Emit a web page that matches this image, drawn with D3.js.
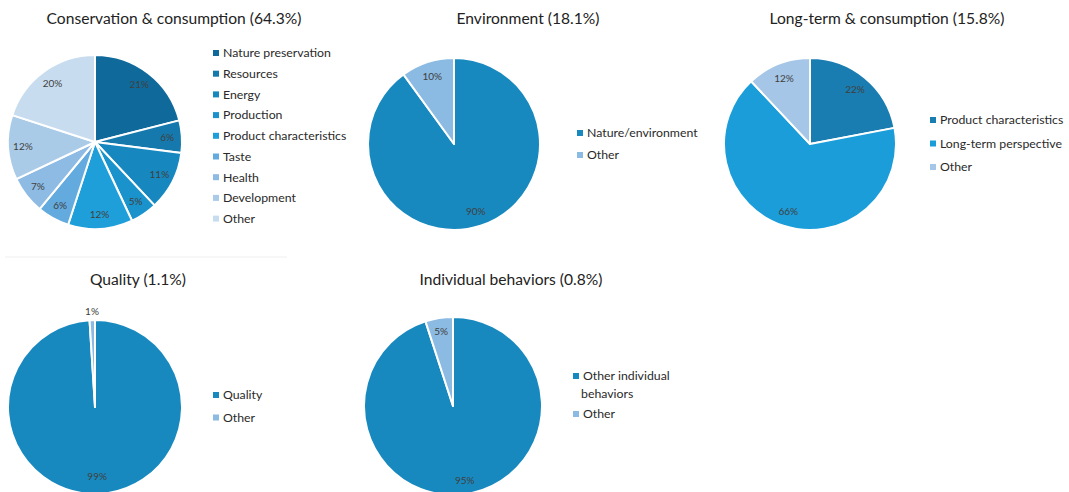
<!DOCTYPE html>
<html><head><meta charset="utf-8">
<script src="https://cdn.jsdelivr.net/npm/d3@7"></script>
<style>
html,body{margin:0;padding:0;background:#fff;}
svg{display:block;font-family:Lato, "Open Sans", sans-serif;}
</style></head>
<body>
<svg id="chart" width="1069" height="492"></svg>
<script>
// ---- data ----
const titles = ["Conservation & consumption (64.3%)", "Environment (18.1%)", "Long-term & consumption (15.8%)", "Quality (1.1%)", "Individual behaviors (0.8%)"];

const cat1 = ["Nature preservation","Resources","Energy","Production","Product characteristics","Taste","Health","Development","Other"];
const val1 = [21, 6, 11, 5, 12, 6, 7, 12, 20];
const col1 = ["#0f6a9b","#1579ad","#1787bf","#1a93cc","#1f9fd9","#63abdf","#8dbbe3","#aacbe8","#c8dcef"];

const cat2 = ["Nature/environment","Other"];
const val2 = [90, 10];
const col2 = ["#1889bf","#8bbae2"];

const cat3 = ["Product characteristics","Long-term perspective","Other"];
const val3 = [22, 66, 12];
const col3 = ["#1a7db1","#1b9dd9","#a5c6e7"];

const cat4 = ["Quality","Other"];
const val4 = [99, 1];
const col4 = ["#1889bf","#8bbae2"];

const cat5 = ["Other individual behaviors","Other"];
const val5 = [95, 5];
const col5 = ["#1889bf","#8bbae2"];

// ---- layout ----
const panels = [
  {title:titles[0], cats:cat1, vals:val1, cols:col1, cx:95, cy:142, r:87, tx:174, ty:24, lx:213, ly:53, lstep:20.7, lr:0.83},
  {title:titles[1], cats:cat2, vals:val2, cols:col2, cx:454, cy:144, r:86, tx:528, ty:24, lx:577, ly:133, lstep:22, lr:0.82},
  {title:titles[2], cats:cat3, vals:val3, cols:col3, cx:810, cy:144, r:86, tx:887, ty:24, lx:930, ly:120, lstep:23.5, lr:0.82},
  {title:titles[3], cats:cat4, vals:val4, cols:col4, cx:95, cy:407, r:87, tx:138, ty:285, lx:213, ly:395, lstep:22.5, lr:0.8, outside:[false,true]},
  {title:titles[4], cats:cat5, vals:val5, cols:col5, cx:453, cy:406, r:89, tx:511, ty:285, lx:573, ly:376, lstep:38, lr:0.85, wrap:true}
];

const svg = d3.select("#chart");

// faint separator under first panel
svg.append("line").attr("x1",5).attr("x2",287).attr("y1",257).attr("y2",257)
  .attr("stroke","#f7f7f7").attr("stroke-width",2);

panels.forEach(p => {
  const g = svg.append("g");
  g.append("text").attr("x",p.tx).attr("y",p.ty).attr("text-anchor","middle")
    .attr("font-size",15.6).attr("fill","#222").text(p.title);

  const pie = d3.pie().sort(null).value(d=>d)(p.vals);
  const arc = d3.arc().innerRadius(0).outerRadius(p.r);
  const pg = g.append("g").attr("transform",`translate(${p.cx},${p.cy})`);
  pg.selectAll("path").data(pie).join("path")
    .attr("d",arc).attr("fill",(d,i)=>p.cols[i])
    .attr("stroke","#fff").attr("stroke-width",2).attr("stroke-linejoin","round");

  const labArc = d3.arc().innerRadius(p.r*p.lr).outerRadius(p.r*p.lr);
  const outArc = d3.arc().innerRadius(p.r*1.1).outerRadius(p.r*1.1);
  pg.selectAll("text").data(pie).join("text")
    .attr("transform",(d,i)=>`translate(${(p.outside&&p.outside[i]?outArc:labArc).centroid(d)})`)
    .attr("text-anchor","middle").attr("dy","0.35em")
    .attr("font-size",10).attr("fill","#404040")
    .text(d=>d.data+"%");

  // legend
  const lg = g.append("g");
  p.cats.forEach((c,i)=>{
    const y = p.ly + (p.wrap && i>0 ? p.lstep : p.lstep*i);
    lg.append("rect").attr("x",p.lx).attr("y",y-3).attr("width",6).attr("height",6).attr("fill",p.cols[i]);
    if (p.wrap && i===0) {
      const t = lg.append("text").attr("x",p.lx+10).attr("y",y).attr("dy","0.35em")
        .attr("font-size",12.3).attr("fill","#2a2a2a");
      const words = c.split(" ");
      t.append("tspan").attr("x",p.lx+10).text(words.slice(0,2).join(" "));
      t.append("tspan").attr("x",p.lx+8).attr("dy","1.4em").text(words.slice(2).join(" "));
    } else {
      lg.append("text").attr("x",p.lx+10).attr("y",y).attr("dy","0.35em")
        .attr("font-size",12.3).attr("fill","#2a2a2a").text(c);
    }
  });
});
</script>
</body></html>
